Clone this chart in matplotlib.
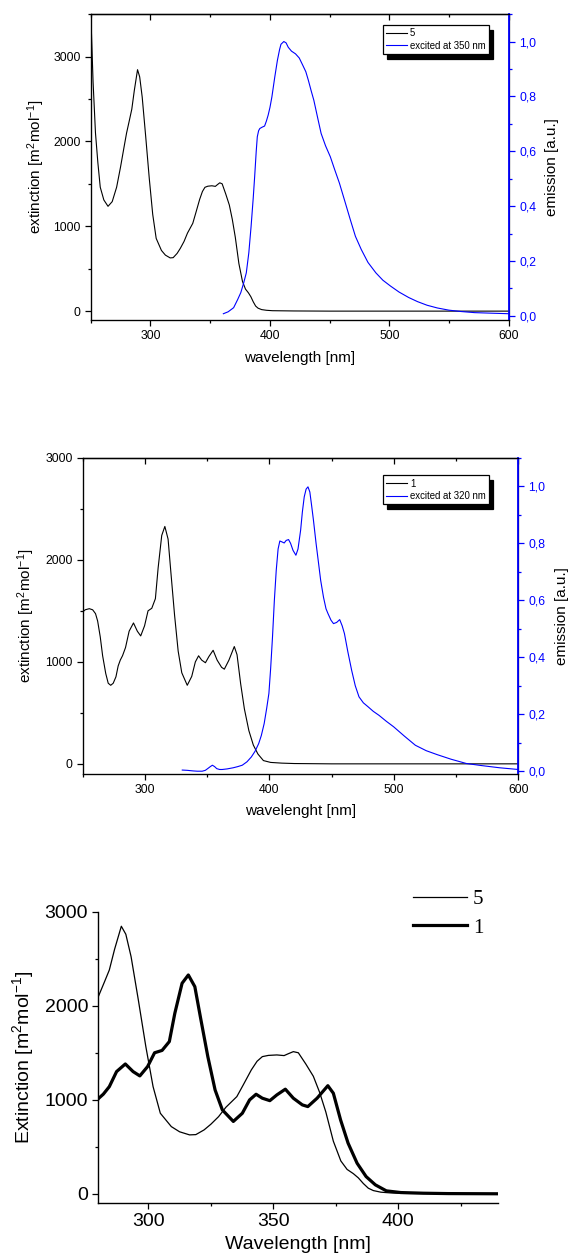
import matplotlib
matplotlib.use("Agg")
import matplotlib.pyplot as plt
from matplotlib.ticker import MultipleLocator, FuncFormatter

plt.rcParams['font.family'] = ['Liberation Sans', 'DejaVu Sans']
plt.rcParams['mathtext.default'] = 'regular'

# absorption of compound 5 (wavelength nm, extinction m2/mol)
wl_5 = [250, 252, 254, 256, 258, 261, 264.5, 268, 271.7, 275, 278, 280, 282.4, 284.4,
        286.5, 289.2, 291, 293.1, 296, 299, 301.9, 304.8, 309.2, 312.5, 316.5, 319,
        322.3, 325, 328.1, 331, 335.4, 338, 341.2, 343.5, 345.6, 348, 351.4, 354.3,
        356, 358, 360, 363, 366, 368.5, 371, 374, 377, 379.5, 382, 384, 386, 388,
        390, 393, 397, 402, 420, 450, 500, 550, 600]
ext_5 = [3550, 2700, 2100, 1750, 1460, 1310, 1235, 1290, 1460, 1700, 1940, 2097, 2250, 2380,
         2600, 2845, 2760, 2522, 2062, 1566, 1140, 857, 715, 660, 627, 630,
         680, 740, 821, 920, 1034, 1160, 1318, 1410, 1459, 1472, 1477, 1470,
         1490, 1512, 1500, 1380, 1250, 1080, 870, 560, 350, 260, 215, 170, 110, 60,
         35, 18, 10, 5, 2, 0, 0, 0, 0]

# absorption of compound 1
wl_1 = [250, 252, 255.3, 258, 260.3, 262, 264.1, 266, 268.5, 270.5, 272.5, 274.5, 276.7,
        278.5, 280.2, 282, 284.4, 287.3, 290.8, 293.9, 296.6, 299.7, 302.5, 305.5,
        308.4, 310.6, 313.5, 316, 318.6, 320.8, 323.8, 326.7, 329.6, 334, 337.6,
        340.5, 343.1, 345.6, 348.6, 351.4, 354.8, 358, 361.6, 363.8, 367.5, 371.8,
        374, 376.9, 379.9, 383.5, 387.1, 390.8, 395.2, 401, 410, 420, 450, 500, 600]
ext_1 = [1489, 1510, 1521, 1510, 1472, 1400, 1244, 1060, 886, 790, 770, 790, 853,
         960, 1017, 1060, 1140, 1300, 1381, 1300, 1254, 1353, 1500, 1525,
         1619, 1920, 2239, 2327, 2203, 1884, 1459, 1105, 893, 770, 857,
         999, 1059, 1017, 991, 1052, 1113, 1017, 946, 928, 1017, 1150,
         1070, 786, 539, 326, 184, 96, 32, 14, 7, 3, 0, 0, 0]

# emission of 5, excited at 350 nm
em_wl_5 = [361, 365, 369.6, 373, 375.6, 378, 380.2, 382.3, 384.2, 386, 387.2, 388.5, 389.4,
           390.5, 391.5, 393.5, 395.5, 397, 398.5, 400, 401.6, 404, 406.2, 408, 409.2,
           411.6, 413.5, 415.3, 418, 421.4, 424.5, 427.5, 430, 432.1, 434.5, 436.7, 440,
           442.8, 446.5, 450.5, 454, 458.1, 462.5, 467.2, 471.5, 476.4, 482, 488.6,
           494.5, 500.8, 508, 516.1, 523.5, 531.4, 540, 549.7, 560, 571.1, 585, 600]
em_5 = [0.008, 0.015, 0.03, 0.06, 0.085, 0.12, 0.157, 0.23, 0.326, 0.43, 0.508, 0.6, 0.653,
        0.675, 0.683, 0.688, 0.692, 0.71, 0.732, 0.76, 0.798, 0.87, 0.931, 0.97, 0.99,
        1.0, 0.995, 0.979, 0.965, 0.955, 0.94, 0.913, 0.89, 0.859, 0.82, 0.786, 0.72,
        0.665, 0.62, 0.58, 0.535, 0.484, 0.42, 0.351, 0.29, 0.242, 0.195, 0.157,
        0.13, 0.109, 0.087, 0.067, 0.052, 0.039, 0.029, 0.021, 0.016, 0.012, 0.01, 0.008]

# emission of 1, excited at 320 nm
em_wl_1 = [330, 334, 338.7, 342, 346, 348.5, 350.4, 352.5, 354.2, 356, 357.7, 360, 362.1,
           366, 370.9, 374.5, 378.2, 382, 385.5, 388.5, 391.4, 393.5, 395.8, 397.8, 399.6,
           401, 402.5, 404, 405.5, 407, 408.4, 410, 411.9, 413.5, 415.4, 417, 419, 421.3,
           423, 425.1, 426.5, 428, 429.5, 431, 432.5, 434, 435.4, 437.5, 439.5, 441.2,
           443.5, 445.5, 447.1, 449.5, 451.5, 454, 456.5, 458.5, 460.3, 463, 466.1, 469,
           472, 475.5, 479.3, 483.5, 488.1, 494, 499.8, 508.5, 517.3, 526, 534.9, 546,
           558.3, 570, 585, 600]
em_1 = [0.004, 0.003, 0.001, 0.0, 0.0, 0.003, 0.009, 0.016, 0.021, 0.016, 0.009, 0.006, 0.006,
        0.008, 0.012, 0.016, 0.021, 0.033, 0.05, 0.07, 0.097, 0.125, 0.167, 0.22, 0.273,
        0.36, 0.471, 0.6, 0.705, 0.78, 0.808, 0.805, 0.801, 0.81, 0.813, 0.8, 0.775, 0.758,
        0.78, 0.846, 0.91, 0.963, 0.99, 0.998, 0.98, 0.93, 0.881, 0.8, 0.73, 0.67,
        0.61, 0.57, 0.553, 0.53, 0.518, 0.522, 0.532, 0.51, 0.483, 0.42, 0.354, 0.3,
        0.261, 0.24, 0.226, 0.21, 0.196, 0.175, 0.156, 0.123, 0.091, 0.072, 0.058, 0.042,
        0.027, 0.02, 0.012, 0.006]

comma = FuncFormatter(lambda v, p: f"{v:.1f}".replace('.', ','))


def spectrum_panel(rect, wl, ext, ewl, em, name, exc_label, ylim, y2lim, xlab, leg_anchor, lab_x):
    ax = fig.add_axes(rect)
    ax.plot(wl, ext, color='black', lw=0.8, label=name)
    ax.set_xlim(250, 600)
    ax.set_ylim(*ylim)
    ax.xaxis.set_major_locator(MultipleLocator(100))
    ax.xaxis.set_minor_locator(MultipleLocator(50))
    ax.yaxis.set_major_locator(MultipleLocator(1000))
    ax.yaxis.set_minor_locator(MultipleLocator(500))
    ax.tick_params(which='major', direction='out', length=4.3, width=0.9, labelsize=8.8, pad=3)
    ax.tick_params(which='minor', direction='out', length=2.5, width=0.9)
    ax.set_xlabel(xlab, fontsize=11)
    ax.set_ylabel('extinction [m$^2$mol$^{-1}$]', fontsize=11)
    ax.xaxis.set_label_coords(0.5, lab_x[0])
    ax.yaxis.set_label_coords(lab_x[1], 0.5)
    for s in ax.spines.values():
        s.set_linewidth(0.9)

    # inward ticks on the top edge
    top = ax.secondary_xaxis('top')
    top.xaxis.set_major_locator(MultipleLocator(100))
    top.xaxis.set_minor_locator(MultipleLocator(50))
    top.tick_params(which='major', direction='in', length=4.3, width=0.9, labeltop=False)
    top.tick_params(which='minor', direction='in', length=2.5, width=0.9)
    top.spines['top'].set_linewidth(0.9)

    ax2 = ax.twinx()
    ax2.plot(ewl, em, color='#0000ff', lw=0.8, label=exc_label)
    ax2.set_ylim(*y2lim)
    ax2.yaxis.set_major_locator(MultipleLocator(0.2))
    ax2.yaxis.set_minor_locator(MultipleLocator(0.1))
    ax2.yaxis.set_major_formatter(comma)
    ax2.tick_params(which='major', direction='out', length=4.3, width=0.9, colors='#0000ff',
                    labelsize=8.8, pad=3)
    ax2.tick_params(which='minor', direction='out', length=2.5, width=0.9, colors='#0000ff')
    ax2.spines['right'].set_color('#0000ff')
    ax2.spines['right'].set_linewidth(1.3)
    ax2.set_ylabel('emission [a.u.]', fontsize=11)
    ax2.yaxis.set_label_coords(lab_x[2], 0.5)

    h1, l1 = ax.get_legend_handles_labels()
    h2, l2 = ax2.get_legend_handles_labels()
    leg = ax2.legend(h1 + h2, l1 + l2, loc='upper right', bbox_to_anchor=leg_anchor,
                     borderaxespad=0, fontsize=6.9, fancybox=False, framealpha=1,
                     edgecolor='black', handlelength=2.2, handletextpad=0.3,
                     labelspacing=0.25, borderpad=0.35,
                     shadow={'color': 'black', 'alpha': 1, 'ox': 3, 'oy': -3.5})
    leg.get_frame().set_linewidth(0.9)
    return ax


fig = plt.figure(figsize=(5.7, 12.58), dpi=100)

spectrum_panel([0.1591, 0.7456, 0.7339, 0.2432], wl_5, ext_5, em_wl_5, em_5, '5',
               'excited at 350 nm', (-105, 3500), (-0.015, 1.1), 'wavelength [nm]',
               (0.952, 0.964), (-0.10, -0.105, 1.087))

spectrum_panel([0.1451, 0.3847, 0.7642, 0.2514], wl_1, ext_1, em_wl_1, em_1, '1',
               'excited at 320 nm', (-100, 3000), (-0.01, 1.1), 'wavelenght [nm]',
               (0.933, 0.945), (-0.095, -0.105, 1.085))

# comparison of both absorption spectra
ax3 = fig.add_axes([0.1725, 0.0435, 0.7018, 0.2318])
ax3.plot(wl_5, ext_5, color='black', lw=0.9, label='5')
ax3.plot(wl_1, ext_1, color='black', lw=2.3, label='1')
ax3.set_xlim(280, 440)
ax3.set_ylim(-100, 3000)
ax3.spines['top'].set_visible(False)
ax3.spines['right'].set_visible(False)
ax3.xaxis.set_major_locator(MultipleLocator(50))
ax3.xaxis.set_minor_locator(MultipleLocator(25))
ax3.yaxis.set_major_locator(MultipleLocator(1000))
ax3.yaxis.set_minor_locator(MultipleLocator(500))
ax3.tick_params(which='major', direction='out', length=4.3, width=0.9, labelsize=14, pad=3)
ax3.tick_params(which='minor', direction='out', length=2.5, width=0.9)
for s in ax3.spines.values():
    s.set_linewidth(1.0)
ax3.set_xlabel('Wavelength [nm]', fontsize=14)
ax3.set_ylabel('Extinction [m$^2$mol$^{-1}$]', fontsize=14)
ax3.xaxis.set_label_coords(0.5, -0.112)
ax3.yaxis.set_label_coords(-0.155, 0.5)
ax3.legend(loc='upper left', bbox_to_anchor=(0.786, 1.075), frameon=False,
           prop={'family': 'Liberation Serif', 'size': 15}, borderpad=0, borderaxespad=0,
           handlelength=2.6, handletextpad=0.3, labelspacing=0.42)

fig.savefig('out.png', dpi=100)
